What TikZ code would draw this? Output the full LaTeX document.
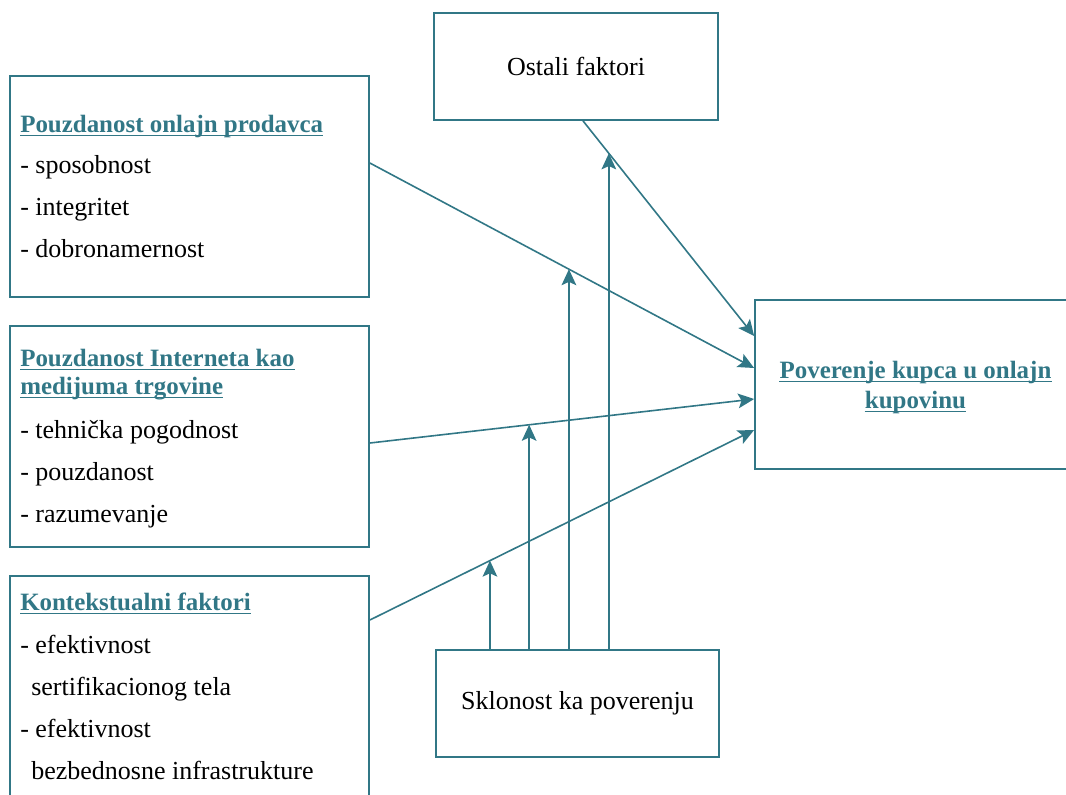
\documentclass[tikz,border=0pt]{standalone}
\usepackage{fontspec}
\setmainfont{Liberation Serif}
\usetikzlibrary{arrows.meta,calc}

\definecolor{tealline}{RGB}{49,119,134}
\newcommand{\px}{0.75pt}
\newcommand{\diagfont}{\fontsize{19.5}{22.5}\selectfont}
\newcommand{\headfont}{\fontsize{18.7}{22.5}\selectfont\bfseries}

\begin{document}
\begin{tikzpicture}[x=0.75pt,y=-0.75pt,
    box/.style={draw=tealline,line width=1.3pt,inner sep=0},
    item/.style={anchor=base west,inner sep=0,font=\diagfont},
    head/.style={item,text=tealline,font=\headfont},
    uline/.style={draw=tealline,line width=1pt},
    link/.style={draw=tealline,line width=1.2pt,-{Stealth[length=12pt,width=11pt,inset=2.5pt]}}]
  \useasboundingbox (0,0) rectangle (1066,794);

  % boxes
  \node[box,minimum width=359*\px,minimum height=221*\px] (seller) at (189.5,186.5) {};
  \node[box,minimum width=359*\px,minimum height=221*\px] (internet) at (189.5,436.5) {};
  \node[box,minimum width=359*\px,minimum height=228*\px] (context) at (189.5,690) {};
  \node[box,minimum width=284*\px,minimum height=107*\px,font=\diagfont] (other) at (576,66.5) {Ostali faktori};
  \node[box,minimum width=283*\px,minimum height=107*\px,font=\diagfont] (propensity) at (577.5,703.5) {Sklonost ka poverenju};
  \node[box,minimum width=317*\px,minimum height=169*\px] (trust) at (913.5,384.5) {};

  % box texts
  \node[head,anchor=base] (t1) at ($(trust.center)+(2,-6.5)$) {Poverenje kupca u onlajn};
  \node[head,anchor=base] (t2) at ($(trust.center)+(2,23.5)$) {kupovinu};

  \node[head] (s0) at (20,132) {Pouzdanost onlajn prodavca};
  \foreach \t [count=\i] in {sposobnost,integritet,dobronamernost}
    \node[item] (s\i) at (20,131+42*\i) {- \t};

  \node[head] (i0) at (20,366) {Pouzdanost Interneta kao};
  \node[head] (i00) at (20,394) {medijuma trgovine};
  \foreach \t [count=\i] in {tehnička pogodnost,pouzdanost,razumevanje}
    \node[item] (i\i) at (20,396+42*\i) {- \t};

  \node[head] (c0) at (20,610) {Kontekstualni faktori};
  \node[item] (c1) at (20,653) {- efektivnost};
  \node[item] (c2) at (31,695) {sertifikacionog tela};
  \node[item] (c3) at (20,737) {- efektivnost};
  \node[item] (c4) at (31,779) {bezbednosne infrastrukture};

  % underlines
  \foreach \n in {s0,i0,i00,c0,t1,t2}
    \draw[uline] ([yshift=-2.5pt]\n.base west) -- ([yshift=-2.5pt]\n.base east);

  % connectors
  \draw[link] ($(seller.east)+(0,-23.5)$) -- ($(trust.west)+(0,-16.5)$) coordinate[pos=0.518] (m3);
  \draw[link] ($(internet.east)+(0,6.5)$) -- ($(trust.west)+(0,14.5)$) coordinate[pos=0.4145] (m2);
  \draw[link] ($(context.east)+(0,-70)$) -- ($(trust.west)+(0,45.5)$) coordinate[pos=0.3125] (m1);
  \draw[link] ($(other.south)+(7,0)$) -- ($(trust.west)+(0,-48.5)$) coordinate[pos=0.151] (m4);

  \foreach \m in {m1,m2,m3,m4}
    \draw[link] (\m |- propensity.north) -- (\m);
\end{tikzpicture}
\end{document}
